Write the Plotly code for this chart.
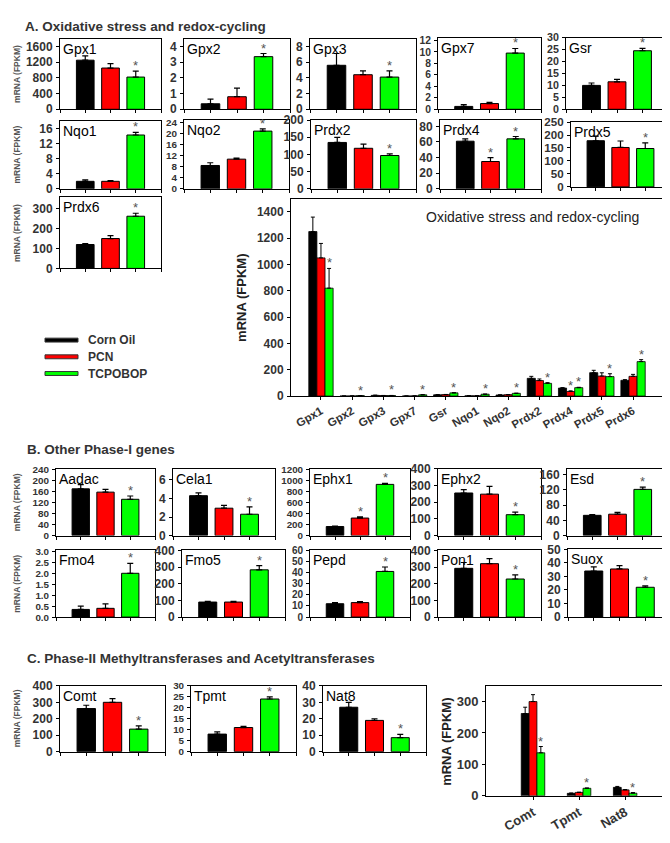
import plotly.graph_objects as go

W, H = 670, 843

# ---------------- DATA ----------------
series_names = ["Corn Oil", "PCN", "TCPOBOP"]
series_colors = ["#000000", "#ff0000", "#00ff00"]

A_genes = ["Gpx1", "Gpx2", "Gpx3", "Gpx7", "Gsr", "Nqo1", "Nqo2", "Prdx2", "Prdx4", "Prdx5", "Prdx6"]
A_corn = [1250, 0.35, 5.6, 0.5, 10, 2.0, 8.5, 135, 61, 178, 120]
A_corn_err = [110, 0.3, 1.5, 0.3, 1.0, 0.4, 1.0, 15, 3, 18, 5]
A_pcn = [1050, 0.8, 4.4, 1.0, 11.5, 2.0, 10.8, 118, 35, 152, 150]
A_pcn_err = [110, 0.55, 0.5, 0.2, 1.0, 0.2, 0.4, 12, 5, 25, 15]
A_tc = [820, 3.35, 4.1, 9.8, 24.5, 14.3, 21, 97, 64, 148, 262]
A_tc_err = [150, 0.2, 0.8, 0.8, 1.0, 0.7, 0.8, 5, 3, 22, 15]
A_sig_pcn = [0, 0, 0, 0, 0, 0, 0, 0, 1, 0, 0]
A_sig_tc = [1, 1, 1, 1, 1, 1, 1, 1, 1, 1, 1]
A_ymax = [1800, 4.5, 9, 12.5, 30, 18, 25, 200, 88, 250, 360]
A_dtick = [400, 1, 2, 2, 5, 4, 4, 50, 20, 50, 100]
A_big_ymax = 1500
A_big_dtick = 200

B_genes = ["Aadac", "Cela1", "Ephx1", "Ephx2", "Esd", "Fmo4", "Fmo5", "Pepd", "Pon1", "Suox"]
B_corn = [170, 4.3, 165, 255, 53, 0.35, 90, 12, 292, 34]
B_corn_err = [15, 0.3, 10, 20, 2, 0.15, 5, 1, 35, 3]
B_pcn = [158, 2.95, 320, 248, 56, 0.4, 90, 13, 320, 35.5]
B_pcn_err = [10, 0.3, 20, 47, 5, 0.2, 5, 1, 30, 2.5]
B_tc = [132, 2.3, 935, 125, 121, 2.0, 283, 41, 228, 22]
B_tc_err = [12, 0.8, 20, 15, 6, 0.45, 25, 4, 25, 1]
B_sig_pcn = [0, 0, 1, 0, 0, 0, 0, 0, 0, 0]
B_sig_tc = [1, 1, 1, 1, 1, 1, 1, 1, 1, 1]
B_ymax = [243, 7.2, 1220, 400, 175, 3.05, 400, 60, 400, 50]
B_dtick = [40, 2, 200, 100, 40, 0.5, 100, 10, 100, 10]
B_tickformat = ["", "", "", "", "", ".1f", "", "", "", ""]

C_genes = ["Comt", "Tpmt", "Nat8"]
C_corn = [262, 8, 27]
C_corn_err = [20, 1, 3]
C_pcn = [300, 11, 19]
C_pcn_err = [22, 0.5, 1]
C_tc = [137, 24, 8.5]
C_tc_err = [20, 1, 2]
C_sig_pcn = [0, 0, 0]
C_sig_tc = [1, 1, 1]
C_ymax = [400, 30, 40]
C_dtick = [100, 5, 10]
C_big_ymax = 350
C_big_dtick = 100

# ---------------- LAYOUT BOXES (pixels: left, right, top, bottom) ----------------
A_boxes = [
    (52, 153, 24, 96), (176, 282, 24, 96), (302, 408, 24, 96), (430, 533, 23, 96), (558, 660, 23, 96),
    (52, 153, 108, 177), (176, 281, 107, 177), (303, 408, 107, 177), (432, 533, 107, 177), (563, 662, 109, 175),
    (52, 153, 185, 258),
]
A_big_box = (283, 655, 187, 388)
B_boxes = [
    (48, 147, 462, 530), (165, 267, 462, 530), (302, 402, 462, 530), (430, 533, 462, 530), (559, 660, 462, 530),
    (48, 147, 545, 613), (174, 277, 545, 613), (302, 402, 545, 613), (430, 533, 545, 613), (560, 663, 544, 613),
]
C_boxes = [(52, 157, 683, 750), (183, 288, 683, 750), (315, 418, 683, 750)]
C_big_box = (478, 660, 683, 795)

FONT = "Arial"
TICKCOL = "#333333"

fig = go.Figure()
axis_n = [0]


def new_axes(box, ymax, dtick, xr, tickfmt="", tfs=12):
    axis_n[0] += 1
    n = axis_n[0]
    key = "" if n == 1 else str(n)
    l, r, t, b = box
    spacing = (b - t) * dtick / ymax
    fs = min(tfs, round(spacing * 0.88, 1))
    xa = dict(domain=[l / W, r / W], range=xr, anchor="y" + key, showline=True, mirror=True,
              linecolor="black", linewidth=1, ticks="outside", ticklen=3, tickcolor="black",
              showgrid=False, zeroline=False, showticklabels=False, fixedrange=True)
    ya = dict(domain=[1 - b / H, 1 - t / H], range=[0, ymax], anchor="x" + key, showline=True,
              mirror=True, linecolor="black", linewidth=1, ticks="outside", ticklen=3,
              tickcolor="black", dtick=dtick, tick0=0, showgrid=False, zeroline=False,
              tickformat=tickfmt, tickfont=dict(family=FONT, size=fs, color=TICKCOL, weight="bold"),
              ticklabelstandoff=1, fixedrange=True)
    fig.update_layout(**{"xaxis" + key: xa, "yaxis" + key: ya})
    return "x" + key, "y" + key


def star(xref, yref, x, y, size=13):
    fig.add_annotation(x=x, y=y, xref=xref, yref=yref, text="*", showarrow=False,
                       yanchor="bottom", yshift=-4, font=dict(family=FONT, size=size, color="#555555"))


def small_panel(box, name, vals, errs, sigs, ymax, dtick, tickfmt=""):
    xr, yr = new_axes(box, ymax, dtick, [-1, 3], tickfmt)
    fig.add_trace(go.Bar(x=[0, 1, 2], y=vals, width=0.7, xaxis=xr, yaxis=yr,
                         marker=dict(color=series_colors, line=dict(color="black", width=1)),
                         error_y=dict(type="data", array=errs, arrayminus=[0, 0, 0], symmetric=False,
                                      color="black", thickness=1.2, width=3),
                         showlegend=False, hoverinfo="skip"))
    for i in range(3):
        if sigs[i]:
            star(xr, yr, i, vals[i] + errs[i])
    fig.add_annotation(x=0.01, y=1.0, xref=xr + " domain", yref=yr + " domain", text=name,
                       showarrow=False, xanchor="left", yanchor="top",
                       font=dict(family=FONT, size=14, color="black"))


def group_panel(box, genes, series, errs, sigs, ymax, dtick, xr, bw, tfs, xfs, title=None):
    xa, ya = new_axes(box, ymax, dtick, xr, tfs=tfs)
    idx = list(range(len(genes)))
    fig.update_layout(**{
        ("xaxis" + xa[1:]): dict(showticklabels=True, tickvals=idx, ticktext=genes, tickangle=-30,
                                 tickfont=dict(family=FONT, size=xfs, color=TICKCOL, weight="bold"))})
    for k in range(3):
        off = -1.5 * bw + k * bw
        fig.add_trace(go.Bar(x=idx, y=series[k], width=bw, offset=off, xaxis=xa, yaxis=ya,
                             marker=dict(color=series_colors[k], line=dict(color="black", width=0.8)),
                             error_y=dict(type="data", array=errs[k], arrayminus=[0] * len(idx),
                                          symmetric=False, color="black", thickness=1, width=2),
                             showlegend=False, hoverinfo="skip"))
        for i in idx:
            if sigs[k][i]:
                star(xa, ya, i + off + bw / 2, series[k][i] + errs[k][i], size=13)
    if title:
        fig.add_annotation(x=0.94, y=0.96, xref=xa + " domain", yref=ya + " domain", text=title,
                           showarrow=False, xanchor="right", yanchor="top",
                           font=dict(family=FONT, size=14, color="#222222"))


# Section A small panels
for i, g in enumerate(A_genes):
    small_panel(A_boxes[i], g, [A_corn[i], A_pcn[i], A_tc[i]],
                [A_corn_err[i], A_pcn_err[i], A_tc_err[i]],
                [0, A_sig_pcn[i], A_sig_tc[i]], A_ymax[i], A_dtick[i])

# Section A overview chart
group_panel(A_big_box, A_genes, [A_corn, A_pcn, A_tc], [A_corn_err, A_pcn_err, A_tc_err],
            [[0] * 11, A_sig_pcn, A_sig_tc], A_big_ymax, A_big_dtick, [-0.96, 10.96], 0.26, 12, 11.5,
            title="Oxidative stress and redox-cycling")

# Section B
for i, g in enumerate(B_genes):
    small_panel(B_boxes[i], g, [B_corn[i], B_pcn[i], B_tc[i]],
                [B_corn_err[i], B_pcn_err[i], B_tc_err[i]],
                [0, B_sig_pcn[i], B_sig_tc[i]], B_ymax[i], B_dtick[i], B_tickformat[i])

# Section C
for i, g in enumerate(C_genes):
    small_panel(C_boxes[i], g, [C_corn[i], C_pcn[i], C_tc[i]],
                [C_corn_err[i], C_pcn_err[i], C_tc_err[i]],
                [0, C_sig_pcn[i], C_sig_tc[i]], C_ymax[i], C_dtick[i])

group_panel(C_big_box, C_genes, [C_corn, C_pcn, C_tc], [C_corn_err, C_pcn_err, C_tc_err],
            [[0] * 3, C_sig_pcn, C_sig_tc], C_big_ymax, C_big_dtick, [-1.02, 2.93], 0.17, 13, 13)

# ---------------- TEXT ----------------
def ptext(x, y, text, size, bold=True, angle=0, xanchor="left", color="#333333"):
    fig.add_annotation(x=x / W, y=1 - y / H, xref="paper", yref="paper", text=text, showarrow=False,
                       xanchor=xanchor, yanchor="middle", textangle=angle,
                       font=dict(family=FONT, size=size, color=color, weight="bold" if bold else "normal"))


ptext(15, 12, "A. Oxidative stress and redox-cycling", 13.5)
ptext(17, 442, "B. Other Phase-I genes", 13.5)
ptext(17, 655, "C. Phase-II Methyltransferases and Acetyltransferases", 13.5)

for yc in [60, 142, 222, 496, 579, 716]:
    ptext(9, yc, "mRNA (FPKM)", 8.5, angle=-90, xanchor="center", color="#555555")
ptext(234, 288, "mRNA (FPKM)", 13, angle=-90, xanchor="center", color="#222222")
ptext(439, 740, "mRNA (FPKM)", 13, angle=-90, xanchor="center", color="#222222")

# Legend
leg_y = [331, 348, 365]
for k in range(3):
    fig.add_shape(type="rect", xref="paper", yref="paper", x0=37 / W, x1=70 / W,
                  y0=1 - (leg_y[k] + 2) / H, y1=1 - (leg_y[k] - 2) / H,
                  fillcolor=series_colors[k], line=dict(color="#333333", width=1))
    ptext(78, leg_y[k], series_names[k], 12, color="#333333")

fig.update_layout(width=W, height=H, margin=dict(l=0, r=0, t=0, b=0),
                  plot_bgcolor="white", paper_bgcolor="white", barmode="overlay",
                  showlegend=False)

fig.write_html("out.html")
